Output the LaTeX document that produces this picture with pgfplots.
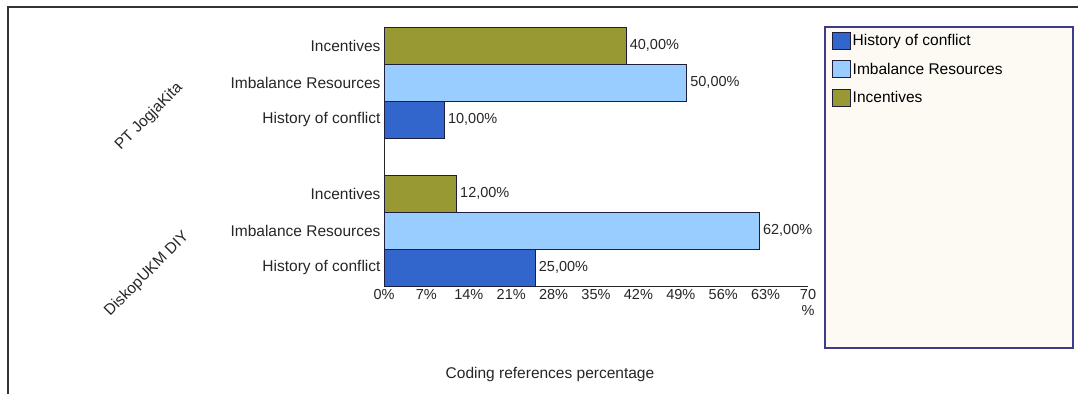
\documentclass[border=0pt]{standalone}
\usepackage{pgfplots}
\pgfplotsset{compat=1.18}
\usepackage{fontspec}
\setmainfont{Liberation Sans}
\definecolor{cHist}{HTML}{3366CC}
\definecolor{cImb}{HTML}{99CCFF}
\definecolor{cInc}{HTML}{999933}
\definecolor{cEdge}{HTML}{1E1E3C}
\definecolor{cLegBox}{HTML}{3C3C8C}
\definecolor{cLegFill}{HTML}{FDFAF4}
\begin{document}
\begin{tikzpicture}
\path[use as bounding box] (0pt,0pt) rectangle (1078pt,-394pt);
\fill[white] (0pt,0pt) rectangle (1078pt,-394pt);
\draw[line width=1.2pt, black!80] (8pt,-394pt) -- (8pt,-7pt) -- (1078pt,-7pt);
\draw[line width=1.2pt, draw=cLegBox, fill=cLegFill] (825pt,-27pt) rectangle (1073pt,-348pt);
\begin{axis}[
  at={(384pt,-286pt)}, anchor=south west,
  scale only axis, width=424pt, height=259pt,
  xbar, bar shift=0pt, bar width=1,
  xmin=0, xmax=70, ymin=-0.5, ymax=6.5,
  axis x line=bottom, axis y line=left,
  axis line style={-, line width=1pt, black!85},
  major tick length=0pt,
  xtick={0,7,14,21,28,35,42,49,56,63,70},
  xticklabels={0\%,7\%,14\%,21\%,28\%,35\%,42\%,49\%,56\%,63\%,{70\\\%}},
  xticklabel style={align=center, font=\fontsize{14.5}{16}\selectfont, text=black!85},
  ytick={0,1,2,4,5,6},
  yticklabels={History of conflict,Imbalance Resources,Incentives,History of conflict,Imbalance Resources,Incentives},
  yticklabel style={font=\fontsize{15.5}{17}\selectfont, text=black!85},
  point meta=explicit symbolic,
  nodes near coords,
  nodes near coords style={font=\fontsize{14.5}{16}\selectfont, text=black!85, anchor=west, inner sep=3pt},
  legend image code/.code={\draw[#1, line width=1pt] (0pt,-8.5pt) rectangle (18pt,8.5pt);},
  legend style={at={(1.0566,0.982)}, anchor=north west, draw=none, fill=none,
    font=\fontsize{15.5}{17}\selectfont, inner sep=0pt, row sep=10.5pt,
    nodes={inner sep=1.5pt}},
  legend cell align=left,
]
\addplot[draw=cEdge, fill=cHist, line width=1pt] coordinates {(25,0) [25,00\%] (10,4) [10,00\%]};
\addplot[draw=cEdge, fill=cImb, line width=1pt] coordinates {(62,1) [62,00\%] (50,5) [50,00\%]};
\addplot[draw=cEdge, fill=cInc, line width=1pt] coordinates {(12,2) [12,00\%] (40,6) [40,00\%]};
\legend{History of conflict,Imbalance Resources,Incentives}
\end{axis}
\node[rotate=45, font=\fontsize{15.5}{17}\selectfont, text=black!85] at (149pt,-117pt) {PT JogjaKita};
\node[rotate=45, font=\fontsize{15.5}{17}\selectfont, text=black!85] at (147pt,-274pt) {DiskopUKM DIY};
\node[font=\fontsize{15.5}{17}\selectfont, text=black!85] at (550pt,-374pt) {Coding references percentage};
\end{tikzpicture}
\end{document}
